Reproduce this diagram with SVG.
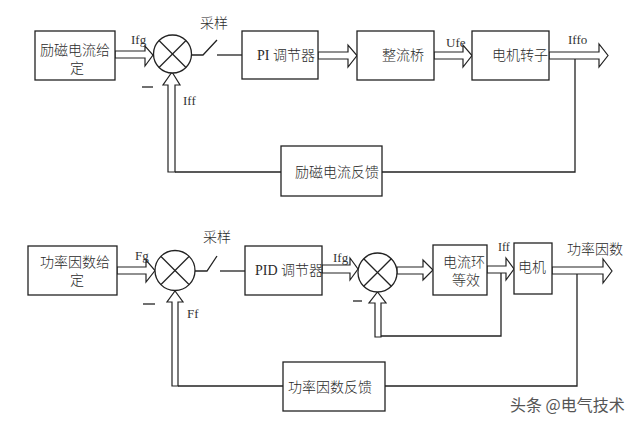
<svg xmlns="http://www.w3.org/2000/svg" width="640" height="429" viewBox="0 0 640 429">
<style>
.box{fill:#fff;stroke:#222;stroke-width:1.3}
.ln{fill:none;stroke:#222;stroke-width:1.3}
.ar{fill:#fff;stroke:#222;stroke-width:1.2;stroke-linejoin:miter}
.t{font-family:"Liberation Serif","Noto Sans CJK SC",serif;font-size:14px;fill:#2a2a2a;font-weight:300}
.s{font-family:"Liberation Serif","Noto Sans CJK SC",serif;font-size:13px;fill:#333;font-weight:normal}
.w{font-family:"Noto Sans CJK SC",sans-serif;font-size:16px;fill:#555}
</style>
<rect width="640" height="429" fill="#fff"/>

<g id="connectors">
  <!-- top row -->
  <polygon class="ar" points="115,51 145,51 145,46 153,55 145,66 145,58 115,58"/>
  <polyline class="ln" points="192,55 203,55 217,40"/>
  <line class="ln" x1="217" y1="55" x2="242" y2="55"/>
  <polygon class="ar" points="318,52 348,52 348,45 357,55.5 348,67 348,59 318,59"/>
  <polygon class="ar" points="434,52 463,52 463,45 472,55.5 463,67 463,59 434,59"/>
  <polygon class="ar" points="549,52 599,52 599,44 608,55.5 599,67 599,59 549,59"/>
  <polyline class="ln" points="575,59 575,172 382,172"/>
  <line class="ln" x1="281" y1="172" x2="175" y2="172"/>
  <polygon class="ar" points="168,172 168,85 163,85 172,72 180,85 175,85 175,172"/>
  <!-- bottom row -->
  <polygon class="ar" points="117,267 146,267 146,260 155,270.5 146,282 146,274 117,274"/>
  <polyline class="ln" points="195,271 207,271 217,256"/>
  <line class="ln" x1="220" y1="271" x2="245" y2="271"/>
  <polygon class="ar" points="322,265 350,265 350,258 358,269 350,280 350,273 322,273"/>
  <polygon class="ar" points="397,267 423,267 423,260 433,270 423,280 423,274 397,274"/>
  <polygon class="ar" points="487,266 506,266 506,258 514,269 506,280 506,273 487,273"/>
  <polygon class="ar" points="552,267 603,267 603,259 612,271 603,283 603,274 552,274"/>
  <polyline class="ln" points="501,273 501,336 381,336"/>
  <polygon class="ar" points="375,337 375,303 369,303 377.5,292 386,303 381,303 381,337"/>
  <polyline class="ln" points="577,274 577,386 385,386"/>
  <line class="ln" x1="283" y1="386" x2="178" y2="386"/>
  <polygon class="ar" points="172,386 172,302 167,302 175,291 183,302 178,302 178,386"/>
</g>

<!-- top row nodes -->
<g id="n_lc_given">
  <rect class="box" x="35" y="31" width="80" height="49"/>
  <text class="t" x="40" y="55">励磁电流给</text>
  <text class="t" x="70" y="73">定</text>
</g>
<g id="sum1">
  <circle class="box" cx="172.5" cy="54" r="19"/>
  <line class="ln" x1="159" y1="40.5" x2="186" y2="67.5"/>
  <line class="ln" x1="186" y1="40.5" x2="159" y2="67.5"/>
</g>
<g id="n_pi">
  <rect class="box" x="242" y="31" width="76" height="48"/>
  <text class="t" x="257" y="60">PI 调节器</text>
</g>
<g id="n_rect">
  <rect class="box" x="357" y="31" width="77" height="49"/>
  <text class="t" x="382" y="60">整流桥</text>
</g>
<g id="n_rotor">
  <rect class="box" x="472" y="31" width="77" height="49"/>
  <text class="t" x="492" y="60">电机转子</text>
</g>
<g id="n_lc_fb">
  <rect class="box" x="281" y="146" width="101" height="50"/>
  <text class="t" x="295" y="177">励磁电流反馈</text>
</g>
<g id="labels_top">
  <text class="t" x="200" y="28">采样</text>
  <text class="s" x="131" y="44">Ifg</text>
  <text class="s" x="183" y="105">Iff</text>
  <text class="s" x="446" y="47">Ufe</text>
  <text class="s" x="568" y="44">Iffo</text>
  <line class="ln" x1="142" y1="87" x2="153" y2="87"/>
</g>

<!-- bottom row nodes -->
<g id="n_pf_given">
  <rect class="box" x="28" y="246" width="89" height="49"/>
  <text class="t" x="40" y="267">功率因数给</text>
  <text class="t" x="70" y="285">定</text>
</g>
<g id="sum2">
  <circle class="box" cx="175" cy="270.5" r="20"/>
  <line class="ln" x1="161" y1="256.5" x2="189" y2="284.5"/>
  <line class="ln" x1="189" y1="256.5" x2="161" y2="284.5"/>
</g>
<g id="n_pid">
  <rect class="box" x="245" y="246" width="77" height="49"/>
  <text class="t" x="255" y="275">PID 调节器</text>
</g>
<g id="sum3">
  <circle class="box" cx="377.5" cy="272.5" r="19.5"/>
  <line class="ln" x1="363.7" y1="258.7" x2="391.3" y2="286.3"/>
  <line class="ln" x1="391.3" y1="258.7" x2="363.7" y2="286.3"/>
</g>
<g id="n_curloop">
  <rect class="box" x="433" y="245" width="54" height="50"/>
  <text class="t" x="443" y="267">电流环</text>
  <text class="t" x="452" y="285">等效</text>
</g>
<g id="n_motor">
  <rect class="box" x="514" y="243" width="38" height="51"/>
  <text class="t" x="518" y="272">电机</text>
</g>
<g id="n_pf_fb">
  <rect class="box" x="283" y="362" width="102" height="49"/>
  <text class="t" x="288" y="392">功率因数反馈</text>
</g>
<g id="labels_bottom">
  <text class="t" x="203" y="242">采样</text>
  <text class="s" x="135" y="260">Fg</text>
  <text class="s" x="187" y="318">Ff</text>
  <text class="s" x="333" y="262">Ifg</text>
  <text class="s" x="498" y="251" style="font-size:12px">Iff</text>
  <text class="t" x="567" y="254">功率因数</text>
  <line class="ln" x1="143" y1="304" x2="155" y2="304"/>
  <line class="ln" x1="353" y1="301" x2="362" y2="301"/>
</g>
<text class="w" x="510" y="411">头条 @电气技术</text>
</svg>
